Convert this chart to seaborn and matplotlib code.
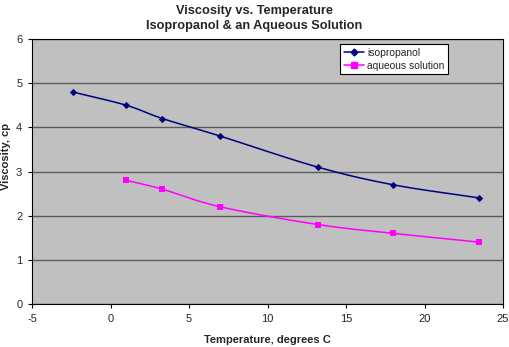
import numpy as np
import pandas as pd
import matplotlib
matplotlib.use("Agg")
import matplotlib.pyplot as plt
import seaborn as sns

iso_temp = [-2.4, 1.0, 3.3, 7.0, 13.2, 18.0, 23.5]
iso_visc = [4.8, 4.5, 4.2, 3.8, 3.1, 2.7, 2.4]
aq_temp = [1.0, 3.3, 7.0, 13.2, 18.0, 23.5]
aq_visc = [2.8, 2.6, 2.2, 1.8, 1.6, 1.4]
x_ticks = [-5, 0, 5, 10, 15, 20, 25]
y_ticks = [0, 1, 2, 3, 4, 5, 6]

sns.set_style("white")
plt.rcParams['font.family'] = ['Liberation Sans', 'DejaVu Sans']


def smooth(xs, ys, n=20):
    x = np.asarray(xs, float); y = np.asarray(ys, float)
    px = np.concatenate([[2 * x[0] - x[1]], x, [2 * x[-1] - x[-2]]])
    py = np.concatenate([[2 * y[0] - y[1]], y, [2 * y[-1] - y[-2]]])
    ox, oy = [], []
    for i in range(1, len(px) - 2):
        t = np.linspace(0, 1, n, endpoint=(i == len(px) - 3))
        for arr, out in ((px, ox), (py, oy)):
            p0, p1, p2, p3 = arr[i - 1], arr[i], arr[i + 1], arr[i + 2]
            out.extend(0.5 * ((2 * p1) + (-p0 + p2) * t + (2 * p0 - 5 * p1 + 4 * p2 - p3) * t ** 2
                              + (-p0 + 3 * p1 - 3 * p2 + p3) * t ** 3))
    return np.array(ox), np.array(oy)


fig = plt.figure(figsize=(5.09, 3.47), dpi=100)
ax = fig.add_axes([32 / 509, 1 - 304 / 347, 471 / 509, 265 / 347])
ax.set_facecolor('#C0C0C0')

navy = '#000080'
mag = '#FF00FF'
sx, sy = smooth(iso_temp, iso_visc)
sns.lineplot(x=sx, y=sy, ax=ax, color=navy, lw=1.1, sort=False, estimator=None)
sx2, sy2 = smooth(aq_temp, aq_visc)
sns.lineplot(x=sx2, y=sy2, ax=ax, color=mag, lw=1.1, sort=False, estimator=None)
sns.scatterplot(x=iso_temp, y=iso_visc, ax=ax, color=navy, marker='D', s=14, linewidth=0, zorder=5)
sns.scatterplot(x=aq_temp, y=aq_visc, ax=ax, color=mag, marker='s', s=22, linewidth=0, zorder=5)

ax.set_xlim(-5, 25)
ax.set_ylim(0, 6)
ax.set_xticks(x_ticks)
ax.set_yticks(y_ticks)
ax.set_xticklabels([str(v) for v in x_ticks], fontsize=8)
ax.set_yticklabels([str(v) for v in y_ticks], fontsize=8)
ax.yaxis.grid(True, color='#5a5a5a', lw=1.0)
ax.set_axisbelow(True)
for s in ax.spines.values():
    s.set_color('black'); s.set_linewidth(0.8)
ax.tick_params(axis='both', direction='out', length=3, width=0.8, color='black', pad=4, bottom=True, left=True)

ax.set_xlabel('Temperature, degrees C', fontsize=8, fontweight='bold', labelpad=8)
fig.text(6 / 509, 1 - 157 / 347, 'Viscosity, cp', rotation=90, ha='center', va='center',
         fontsize=8, fontweight='bold')
fig.text(0.5, 1 - 5 / 347, 'Viscosity vs. Temperature\nIsopropanol & an Aqueous Solution',
         ha='center', va='top', fontsize=9.2, fontweight='bold', linespacing=1.3)

from matplotlib.lines import Line2D
handles = [Line2D([], [], color=navy, marker='D', markersize=3.5, lw=1.1),
           Line2D([], [], color=mag, marker='s', markersize=4.5, lw=1.1)]
leg = ax.legend(handles, ['isopropanol', 'aqueous solution'], loc='upper left',
                bbox_to_anchor=((340 - 32) / 471, 1 - 5 / 265), fontsize=7.4, frameon=True,
                fancybox=False, edgecolor='black', framealpha=1, borderpad=0.35,
                handlelength=2.0, handletextpad=0.3, labelspacing=0.3, borderaxespad=0)
leg.get_frame().set_linewidth(0.8)

fig.savefig('out.png', dpi=100, facecolor='white')
